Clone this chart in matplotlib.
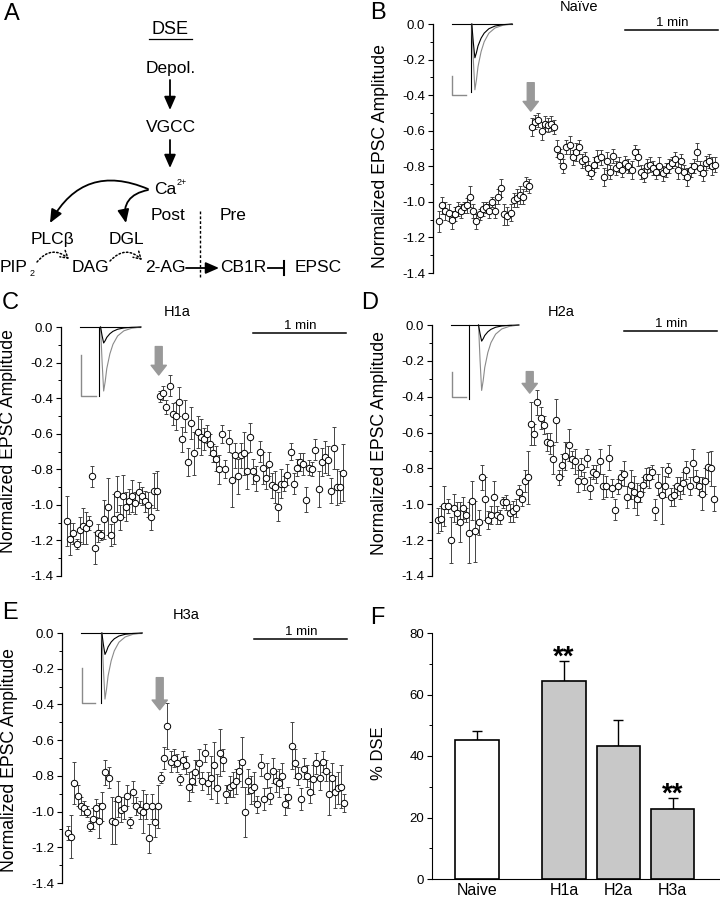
import numpy as np
import matplotlib
matplotlib.use('Agg')
import matplotlib.pyplot as plt
from matplotlib.patches import FancyArrowPatch

plt.rcParams['font.family'] = ['Liberation Sans', 'DejaVu Sans']
plt.rcParams['axes.unicode_minus'] = False

# Normalized EPSC amplitude, one sample every 2 s
# (30 samples before depolarization, 60 after), mean and SEM
naive_pre = [-1.11, -1.02, -1.05, -1.06, -1.10, -1.07, -1.04, -1.05, -1.03, -1.02,
             -0.97, -1.05, -1.11, -1.07, -1.04, -1.03, -1.05, -1.00, -1.05, -0.97,
             -0.92, -1.07, -1.08, -1.06, -0.99, -0.98, -0.96, -0.97, -0.90, -0.91]
naive_pre_err = [0.06, 0.05, 0.05, 0.05, 0.05, 0.04, 0.04, 0.04, 0.03, 0.04,
                 0.06, 0.04, 0.04, 0.03, 0.04, 0.03, 0.04, 0.03, 0.04, 0.04,
                 0.05, 0.06, 0.05, 0.05, 0.04, 0.05, 0.05, 0.04, 0.04, 0.04]
naive_post = [-0.58, -0.55, -0.54, -0.60, -0.56, -0.57, -0.56, -0.58, -0.70, -0.74,
              -0.80, -0.69, -0.68, -0.75, -0.72, -0.69, -0.77, -0.76, -0.81, -0.84,
              -0.79, -0.76, -0.75, -0.86, -0.77, -0.83, -0.74, -0.81, -0.79, -0.82,
              -0.78, -0.80, -0.82, -0.72, -0.75, -0.83, -0.85, -0.80, -0.79, -0.81,
              -0.83, -0.80, -0.84, -0.82, -0.80, -0.78, -0.76, -0.82, -0.77, -0.83,
              -0.86, -0.82, -0.80, -0.72, -0.81, -0.84, -0.78, -0.77, -0.80, -0.79]
naive_post_err = [0.05, 0.04, 0.04, 0.05, 0.04, 0.04, 0.04, 0.04, 0.05, 0.04,
                  0.04, 0.04, 0.05, 0.04, 0.05, 0.04, 0.04, 0.04, 0.04, 0.03,
                  0.04, 0.05, 0.04, 0.05, 0.05, 0.04, 0.04, 0.04, 0.04, 0.04,
                  0.04, 0.04, 0.05, 0.04, 0.05, 0.04, 0.04, 0.04, 0.04, 0.04,
                  0.04, 0.05, 0.04, 0.04, 0.04, 0.03, 0.04, 0.05, 0.04, 0.04,
                  0.05, 0.04, 0.04, 0.05, 0.04, 0.04, 0.04, 0.04, 0.05, 0.04]

h1a_pre = [-1.09, -1.19, -1.16, -1.22, -1.14, -1.12, -1.13, -1.10, -0.84, -1.24,
           -1.16, -1.17, -1.08, -1.01, -1.17, -1.08, -0.94, -1.07, -0.95, -1.01,
           -0.98, -0.95, -0.99, -0.93, -0.95, -0.98, -1.00, -1.07, -0.92, -0.92]
h1a_pre_err = [0.14, 0.09, 0.06, 0.03, 0.07, 0.10, 0.09, 0.04, 0.06, 0.09,
               0.05, 0.03, 0.11, 0.16, 0.06, 0.14, 0.10, 0.07, 0.12, 0.08,
               0.07, 0.09, 0.06, 0.06, 0.05, 0.06, 0.07, 0.07, 0.10, 0.11]
h1a_post = [-0.39, -0.37, -0.45, -0.33, -0.49, -0.50, -0.42, -0.63, -0.50, -0.76,
            -0.54, -0.71, -0.59, -0.62, -0.63, -0.60, -0.66, -0.71, -0.74, -0.80,
            -0.60, -0.80, -0.64, -0.86, -0.72, -0.84, -0.72, -0.71, -0.81, -0.62,
            -0.81, -0.85, -0.70, -0.79, -0.85, -0.77, -0.89, -0.90, -1.01, -0.88,
            -0.88, -0.83, -0.70, -0.88, -0.79, -0.76, -0.77, -0.97, -0.79, -0.80,
            -0.69, -0.91, -0.76, -0.73, -0.75, -0.92, -0.68, -0.90, -0.90, -0.82]
h1a_post_err = [0.03, 0.04, 0.04, 0.06, 0.06, 0.08, 0.08, 0.07, 0.09, 0.08,
                0.09, 0.12, 0.09, 0.10, 0.06, 0.05, 0.06, 0.05, 0.07, 0.08,
                0.05, 0.05, 0.06, 0.15, 0.07, 0.10, 0.07, 0.12, 0.10, 0.08,
                0.07, 0.07, 0.06, 0.09, 0.06, 0.07, 0.07, 0.09, 0.08, 0.08,
                0.04, 0.06, 0.05, 0.06, 0.05, 0.05, 0.06, 0.07, 0.04, 0.04,
                0.06, 0.10, 0.08, 0.09, 0.08, 0.07, 0.12, 0.10, 0.09, 0.16]

h2a_pre = [-1.09, -1.08, -1.01, -1.01, -1.20, -1.02, -1.05, -1.10, -1.02, -1.06,
           -1.16, -0.98, -1.15, -1.10, -0.85, -0.97, -1.09, -1.06, -0.96, -1.06,
           -1.07, -0.99, -0.99, -1.05, -1.04, -1.02, -0.93, -0.97, -0.87, -0.85]
h2a_pre_err = [0.07, 0.07, 0.11, 0.04, 0.13, 0.08, 0.06, 0.11, 0.06, 0.04,
               0.17, 0.11, 0.17, 0.07, 0.07, 0.12, 0.05, 0.05, 0.09, 0.05,
               0.04, 0.03, 0.04, 0.05, 0.06, 0.05, 0.04, 0.04, 0.06, 0.15]
h2a_post = [-0.55, -0.61, -0.43, -0.52, -0.56, -0.65, -0.66, -0.75, -0.53, -0.85,
            -0.78, -0.73, -0.67, -0.75, -0.76, -0.87, -0.79, -0.87, -0.74, -0.91,
            -0.82, -0.83, -0.76, -0.90, -0.90, -0.74, -0.91, -1.03, -0.90, -0.85,
            -0.83, -0.96, -0.89, -0.93, -0.97, -0.94, -0.89, -0.85, -0.85, -0.82,
            -1.03, -0.89, -0.95, -0.90, -0.81, -0.96, -0.95, -0.90, -0.91, -0.88,
            -0.81, -0.90, -0.77, -0.86, -0.90, -0.94, -0.87, -0.79, -0.80, -0.97]
h2a_post_err = [0.12, 0.06, 0.07, 0.06, 0.05, 0.05, 0.06, 0.08, 0.12, 0.04,
                0.06, 0.08, 0.09, 0.05, 0.07, 0.06, 0.05, 0.05, 0.05, 0.06,
                0.04, 0.05, 0.07, 0.07, 0.06, 0.07, 0.05, 0.06, 0.04, 0.04,
                0.07, 0.06, 0.08, 0.09, 0.09, 0.05, 0.04, 0.05, 0.06, 0.04,
                0.06, 0.06, 0.16, 0.06, 0.04, 0.05, 0.06, 0.05, 0.06, 0.06,
                0.05, 0.05, 0.08, 0.05, 0.05, 0.09, 0.07, 0.08, 0.10, 0.07]

h3a_pre = [-1.12, -1.14, -0.84, -0.91, -0.97, -0.98, -1.00, -1.08, -1.04, -0.98,
           -1.05, -0.97, -0.78, -0.81, -1.05, -1.06, -0.93, -0.99, -0.98, -0.91,
           -1.06, -0.89, -0.97, -0.99, -1.00, -0.97, -1.15, -0.97, -1.06, -0.97]
h3a_pre_err = [0.04, 0.12, 0.12, 0.06, 0.05, 0.04, 0.03, 0.03, 0.06, 0.05,
               0.10, 0.08, 0.07, 0.06, 0.13, 0.12, 0.10, 0.07, 0.06, 0.06,
               0.03, 0.06, 0.05, 0.05, 0.12, 0.07, 0.08, 0.07, 0.08, 0.12]
h3a_post = [-0.81, -0.70, -0.52, -0.72, -0.70, -0.73, -0.82, -0.71, -0.74, -0.86,
            -0.83, -0.78, -0.73, -0.83, -0.67, -0.84, -0.81, -0.74, -0.87, -0.67,
            -0.71, -0.90, -0.86, -0.85, -0.83, -0.77, -0.72, -1.00, -0.83, -0.88,
            -0.86, -0.96, -0.74, -0.93, -0.80, -0.91, -0.77, -0.83, -0.84, -0.80,
            -0.96, -0.92, -0.63, -0.73, -0.80, -0.93, -0.76, -0.80, -0.89, -0.82,
            -0.73, -0.81, -0.72, -0.77, -0.90, -0.81, -0.89, -0.87, -0.86, -0.95]
h3a_post_err = [0.03, 0.06, 0.13, 0.06, 0.05, 0.05, 0.03, 0.05, 0.05, 0.08,
                0.06, 0.07, 0.08, 0.05, 0.05, 0.06, 0.12, 0.13, 0.08, 0.13,
                0.06, 0.05, 0.06, 0.07, 0.07, 0.06, 0.14, 0.14, 0.07, 0.08,
                0.08, 0.05, 0.06, 0.06, 0.07, 0.05, 0.07, 0.06, 0.08, 0.07,
                0.06, 0.06, 0.13, 0.08, 0.05, 0.06, 0.06, 0.06, 0.06, 0.08,
                0.06, 0.07, 0.06, 0.06, 0.12, 0.08, 0.09, 0.09, 0.12, 0.05]

# example EPSC insets: time after onset and normalized waveform
trace_dt = [0, 1, 2, 3, 4, 6, 8, 11, 15, 20, 26]
trace_shape = [0, -0.55, -1.0, -0.85, -0.65, -0.42, -0.27, -0.14, -0.06, -0.02, 0]

# panel F
groups = ['Naive', 'H1a', 'H2a', 'H3a']
dse = [45.1, 64.4, 43.4, 22.9]
dse_err = [3.0, 6.4, 8.4, 3.6]
signif = ['', '**', '', '**']

W, H = 720, 899


def px_rect(l, t, r, b):
    return [l / W, 1 - b / H, (r - l) / W, (b - t) / H]


def draw_trace(ax, tr):
    kw = dict(lw=0.8, clip_on=False)
    ax.plot(tr['base'], [0, 0], color='k', **kw)
    ax.plot([tr['art'], tr['art']], [0, tr['art_depth']], color='k', **kw)
    tx = tr['onset'] + np.array(trace_dt)
    ax.plot(tx, tr['grey'] * np.array(trace_shape), color='#8a8a8a', **kw)
    ax.plot(tx, tr['black'] * np.array(trace_shape), color='k', **kw)
    sx, sx2, sy0, sy1 = tr['bar']
    ax.plot([sx, sx, sx2], [sy0, sy1, sy1], color='#8a8a8a', lw=1, clip_on=False)


def time_panel(fig, rect, pre, pre_err, post, post_err, title, title_pos,
               arrow_y, tr, ylab_y):
    ax = fig.add_axes(rect)
    vals = np.array(pre + post)
    errs = np.array(pre_err + post_err)
    assert len(vals) == len(errs)
    t = 2 * np.arange(len(vals))
    ax.errorbar(t, vals, yerr=errs, fmt='o', ms=4.6, mfc='white', mec='k', mew=0.7,
                ecolor='#444444', elinewidth=0.7, capsize=1.6, capthick=0.7)
    ax.set_xlim(-4, 181)
    ax.set_ylim(-1.4, 0.0)
    for s in ['top', 'right', 'bottom']:
        ax.spines[s].set_visible(False)
    ax.spines['left'].set_linewidth(0.9)
    ax.set_xticks([])
    ax.set_yticks(np.arange(-1.4, 0.01, 0.2))
    ax.set_yticks(np.arange(-1.4, 0.01, 0.1), minor=True)
    ax.yaxis.set_major_formatter(plt.FuncFormatter(lambda v, _: '%.1f' % (round(v, 1) + 0.0)))
    ax.tick_params(axis='y', which='major', direction='out', length=3.5, width=0.8,
                   labelsize=9.5, pad=2)
    ax.tick_params(axis='y', which='minor', direction='out', length=2, width=0.7)
    ax.set_ylabel('Normalized EPSC Amplitude', fontsize=12.7)
    ax.yaxis.set_label_coords(-0.155, ylab_y)

    ax.text(title_pos[0], title_pos[1], title, ha='center', va='center',
            fontsize=10.5, clip_on=False)
    # 1 min scale bar
    ax.plot([120, 180], [-0.035, -0.035], color='k', lw=1.1, clip_on=False)
    ax.text(150, -0.028, '1 min', ha='center', va='bottom', fontsize=9.5)
    # depolarization arrow
    ax.annotate('', xy=(59, arrow_y[1]), xytext=(59, arrow_y[0]),
                arrowprops=dict(arrowstyle='simple,head_length=0.7,head_width=1.1,tail_width=0.5',
                                color='#999999', mutation_scale=10, shrinkA=0, shrinkB=0))
    draw_trace(ax, tr)
    return ax


fig = plt.figure(figsize=(7.2, 8.99), dpi=100)

# ---- panel A: DSE pathway schematic (pixel coordinates)
ax_a = fig.add_axes(px_rect(0, 0, 360, 290))
ax_a.set_xlim(0, 360)
ax_a.set_ylim(290, 0)
ax_a.axis('off')
fs = 12.5
ax_a.text(170, 30, 'DSE', ha='center', va='center', fontsize=13)
ax_a.plot([149, 192], [39, 39], color='k', lw=0.9)
ax_a.text(171, 68, 'Depol.', ha='center', va='center', fontsize=fs)
ax_a.text(171, 128, 'VGCC', ha='center', va='center', fontsize=fs)
ax_a.text(154, 190, 'Ca', ha='left', va='center', fontsize=fs)
ax_a.text(177, 183, '2+', ha='left', va='center', fontsize=6.5)
ax_a.text(168, 216, 'Post', ha='center', va='center', fontsize=fs)
ax_a.text(233, 216, 'Pre', ha='center', va='center', fontsize=fs)
ax_a.text(52, 240, 'PLCβ', ha='center', va='center', fontsize=fs)
ax_a.text(126, 240, 'DGL', ha='center', va='center', fontsize=fs)
ax_a.text(0, 268, 'PIP', ha='left', va='center', fontsize=fs)
ax_a.text(30, 274, '2', ha='left', va='center', fontsize=6.5)
ax_a.text(90, 268, 'DAG', ha='center', va='center', fontsize=fs)
ax_a.text(165, 268, '2-AG', ha='center', va='center', fontsize=fs)
ax_a.text(243, 268, 'CB1R', ha='center', va='center', fontsize=fs)
ax_a.text(318, 268, 'EPSC', ha='center', va='center', fontsize=fs)

solid = dict(arrowstyle='-|>,head_length=0.8,head_width=0.35', mutation_scale=10,
             color='k', lw=1.3, shrinkA=0, shrinkB=0)
for a, b, rad in [((170, 80), (170, 110), 0), ((170, 140), (170, 168), 0),
                  ((148, 189), (50, 223), 0.45), ((148, 190), (126, 223), 0.5),
                  ((186, 268), (219, 268), 0)]:
    ax_a.add_patch(FancyArrowPatch(a, b, connectionstyle='arc3,rad=%s' % rad, **solid))
dotted = dict(arrowstyle='->,head_length=0.5,head_width=0.3', mutation_scale=10,
              color='k', lw=1.1, ls=(0, (1, 1.5)), shrinkA=0, shrinkB=0)
for a, b in [((37, 262), (69, 259)), ((110, 261), (142, 260))]:
    ax_a.add_patch(FancyArrowPatch(a, b, connectionstyle='arc3,rad=-0.5', **dotted))
ax_a.plot([200, 200], [211, 277], color='k', lw=1, ls=(0, (2, 1.5)))
ax_a.plot([268, 284], [268, 268], color='k', lw=1.3)
ax_a.plot([284, 284], [261, 275], color='k', lw=1.5)

# ---- panels B-E
time_panel(fig, px_rect(433, 24, 720, 273), naive_pre, naive_pre_err, naive_post,
           naive_post_err, 'Naïve', (90, 0.095), (-0.33, -0.49),
           dict(base=[8, 47], art=20.8, art_depth=-0.38, onset=21, grey=0.37,
                black=0.19, bar=(8.3, 17.5, -0.29, -0.40)), 0.47)
time_panel(fig, px_rect(61, 327, 348, 576), h1a_pre, h1a_pre_err, h1a_post,
           h1a_post_err, 'H1a', (71, 0.085), (-0.11, -0.27),
           dict(base=[8, 47], art=20.4, art_depth=-0.39, onset=21.5, grey=0.36,
                black=0.09, bar=(8.6, 18.7, -0.156, -0.39)), 0.54)
time_panel(fig, px_rect(432, 325, 719, 576), h2a_pre, h2a_pre_err, h2a_post,
           h2a_post_err, 'H2a', (79, 0.07), (-0.26, -0.38),
           dict(base=[8, 47], art=20, art_depth=-0.41, onset=26, grey=0.365,
                black=0.09, bar=(8.6, 17.9, -0.26, -0.40)), 0.53)
time_panel(fig, px_rect(62, 633, 349, 883), h3a_pre, h3a_pre_err, h3a_post,
           h3a_post_err, 'H3a', (76, 0.10), (-0.25, -0.43),
           dict(base=[8.5, 47], art=21, art_depth=-0.39, onset=21.7, grey=0.37,
                black=0.12, bar=(9.2, 17.2, -0.196, -0.39)), 0.49)

# ---- panel F
ax_f = fig.add_axes(px_rect(432, 633, 720, 879))
bar_x = [0, 1.6, 2.6, 3.6]
bar_colors = ['white', '#c8c8c8', '#c8c8c8', '#c8c8c8']
ax_f.errorbar(bar_x, dse, yerr=[np.zeros(len(dse)), dse_err], fmt='none', ecolor='k',
              elinewidth=1, capsize=3.5, capthick=1)
ax_f.bar(bar_x, dse, width=0.8, color=bar_colors, edgecolor='k', lw=1.2, zorder=3)
for x, v, e, s in zip(bar_x, dse, dse_err, signif):
    if s:
        ax_f.text(x, v + e - 1.2, s, ha='center', va='baseline', fontsize=20,
                  fontweight='bold')
ax_f.set_xlim(-0.83, 4.47)
ax_f.set_ylim(0, 80)
ax_f.spines['top'].set_visible(False)
ax_f.spines['right'].set_visible(False)
ax_f.set_xticks(bar_x)
ax_f.set_xticklabels(groups, fontsize=11.5)
ax_f.tick_params(axis='x', length=0, pad=3)
ax_f.set_yticks([0, 20, 40, 60, 80])
ax_f.set_yticks(np.arange(0, 81, 10), minor=True)
ax_f.tick_params(axis='y', which='major', direction='out', length=3.5, width=0.8,
                 labelsize=9.5, pad=2)
ax_f.tick_params(axis='y', which='minor', direction='out', length=2, width=0.7)
ax_f.set_ylabel('% DSE', fontsize=12)
ax_f.yaxis.set_label_coords(-0.16, 0.51)

# panel letters
for letter, x, y in [('A', 12, 14), ('B', 378, 13), ('C', 10, 303),
                     ('D', 370, 303), ('E', 10, 613), ('F', 377, 618)]:
    fig.text(x / W, 1 - y / H, letter, ha='center', va='center', fontsize=17)

fig.savefig('out.png', dpi=100)
